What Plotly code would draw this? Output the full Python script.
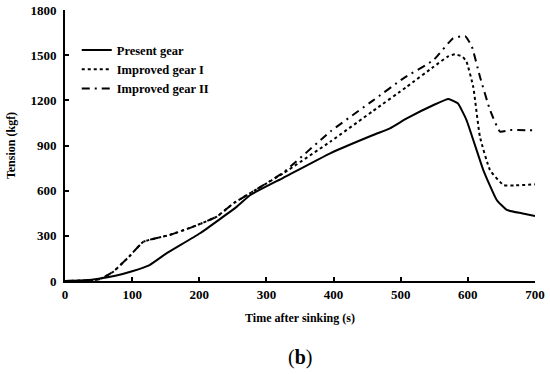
import plotly.graph_objects as go

time_present = [0, 30, 50, 75, 100, 126, 150, 201, 256, 276, 325, 395, 459, 484, 509, 549, 571, 585, 598, 623, 643, 658, 680, 700]
present = [0, 5, 15, 35, 65, 106, 180, 317, 494, 571, 685, 848, 970, 1014, 1080, 1169, 1209, 1180, 1069, 737, 538, 472, 450, 432]

time_imp1 = [0, 30, 50, 60, 72, 95, 117, 156, 191, 226, 251, 276, 325, 395, 459, 509, 549, 570, 581, 592, 598, 608, 618, 633, 653, 670, 700]
improved1 = [0, 3, 10, 30, 62, 160, 261, 306, 361, 427, 516, 584, 715, 925, 1130, 1290, 1423, 1490, 1506, 1490, 1457, 1290, 958, 737, 638, 635, 642]

time_imp2 = [0, 30, 50, 60, 72, 95, 117, 156, 191, 226, 251, 276, 325, 395, 459, 504, 549, 578, 596, 606, 618, 633, 648, 663, 700]
improved2 = [0, 3, 10, 30, 62, 160, 261, 306, 361, 427, 516, 584, 720, 992, 1200, 1346, 1468, 1612, 1627, 1556, 1357, 1136, 992, 1003, 1000]

x_ticks = [0, 100, 200, 300, 400, 500, 600, 700]
y_ticks = [0, 300, 600, 900, 1200, 1500, 1800]

font_b = dict(family="Liberation Serif", size=13, color="black")
font_t = dict(family="Liberation Serif", size=12, color="black")

fig = go.Figure()
fig.add_trace(go.Scatter(x=time_present, y=present, mode="lines", name="<b>Present gear</b>",
                         line=dict(color="black", width=2, shape="spline", smoothing=0.4)))
fig.add_trace(go.Scatter(x=time_imp1, y=improved1, mode="lines", name="<b>Improved gear I</b>",
                         line=dict(color="black", width=2, dash="dot", shape="spline", smoothing=0.4)))
fig.add_trace(go.Scatter(x=time_imp2, y=improved2, mode="lines", name="<b>Improved gear II</b>",
                         line=dict(color="black", width=2, dash="8px,5px,2px,5px", shape="spline", smoothing=0.4)))

fig.update_layout(
    width=550, height=374,
    margin=dict(l=65, r=15, t=10, b=93),
    paper_bgcolor="white", plot_bgcolor="white",
    font=font_b,
    showlegend=True,
    legend=dict(x=0.025, y=0.906, xanchor="left", yanchor="top", bgcolor="rgba(0,0,0,0)",
                font=dict(family="Liberation Serif", size=12.5, color="black"),
                itemwidth=30, tracegroupgap=2),
    xaxis=dict(range=[0, 700], tickvals=x_ticks, ticktext=[f"<b>{v}</b>" for v in x_ticks],
               showgrid=False, zeroline=False, showline=True, linecolor="black", linewidth=2,
               ticks="inside", ticklen=4, tickwidth=1.5, tickcolor="black", automargin=False,
               title=dict(text="<b>Time after sinking (s)</b>", font=font_t, standoff=13)),
    yaxis=dict(range=[0, 1800], tickvals=y_ticks, ticktext=[f"<b>{v}</b>" for v in y_ticks],
               showgrid=False, zeroline=False, showline=True, linecolor="black", linewidth=2,
               ticks="inside", ticklen=4, tickwidth=1.5, tickcolor="black", automargin=False,
               ticklabelstandoff=4,
               title=dict(text="<b>Tension (kgf)</b>", font=font_t, standoff=12)),
    annotations=[dict(text="(<b>b</b>)", x=0.5, y=-0.282, xref="paper", yref="paper",
                      xanchor="center", yanchor="middle", showarrow=False,
                      font=dict(family="Liberation Serif", size=20, color="black"))],
)

fig.write_html("out.html", config={"displayModeBar": False},
               post_script="document.body.style.margin='0';")
